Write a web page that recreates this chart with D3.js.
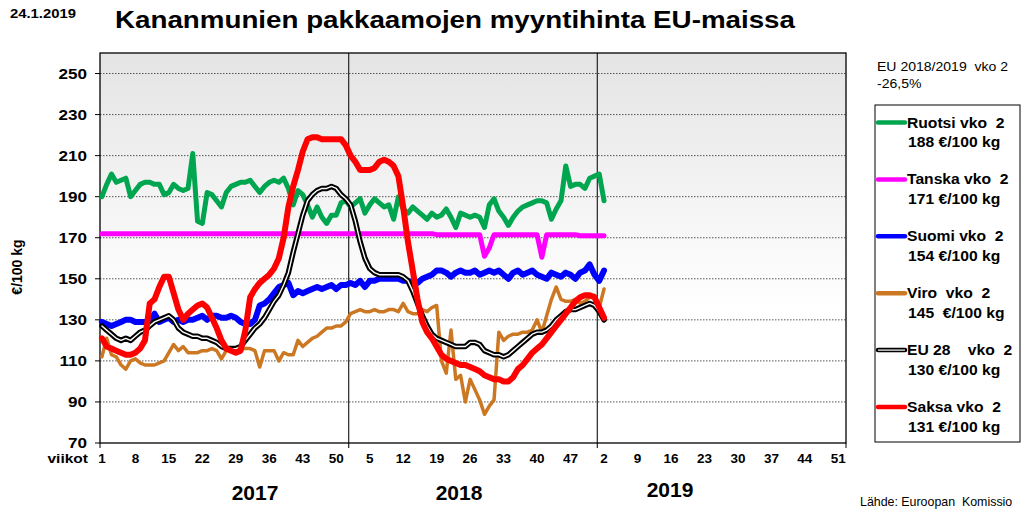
<!DOCTYPE html>
<html><head><meta charset="utf-8">
<script src="https://cdn.jsdelivr.net/npm/d3@7/dist/d3.min.js"></script>
<style>
body{margin:0;background:#fff;}
svg{display:block;font-family:"Liberation Sans",Arial,sans-serif;}
text{white-space:pre;}
</style></head><body>
<svg id="c" width="1023" height="514"></svg>
<script>
// ---- data (weekly, 2017 w1 .. 2019 w2) ----
const ruotsi = [190,196,201,197,198,199,190,193,196,197,197,196,196,191,192,196,194,193,194,211,178,177,192,191,188,185,192,195,196,197,197,198,195,192,195,197,198,197,199,194,186,193,191,186,180,185,180,177,181,181,187,188,185,187,189,182,186,189,187,185,186,179,190,184,182,185,183,181,179,182,180,181,184,180,175,182,181,180,181,180,175,186,189,183,180,176,180,183,185,186,187,188,188,187,179,184,188,205,195,196,196,194,199,200,201,188];
const tanska = [172,172,172,172,172,172,172,172,172,172,172,172,172,172,172,172,172,172,172,172,172,172,172,172,172,172,172,172,172,172,172,172,172,172,172,172,172,172,172,172,172,172,172,172,172,172,172,172,172,172,172,172,172,172,172,172,172,172,172,172,172,172,172,172,172,172,172,172,172,172,171.5,171.5,171.5,171.5,171.5,171.5,171.5,171.5,171.5,171.5,161,165,171.5,171.5,171.5,171.5,171.5,171.5,171.5,171.5,171.5,171.5,160.5,171.5,171.5,171.5,171.5,171.5,171.5,171.5,171,171,171,171,171,171];
const suomi = [129,128,127,128,129,130,130,129,129,129,129,133,129,130,131,129,130,129,130,130,131,132,130,132,132,131,131,132,131,129,128,128,130,137,138,140,143,146,147,148,142,144,143,144,145,146,145,146,147,145,147,147,148,147,149,146,149,149,150,150,150,150,150,149,149,148,148,150,151,152,154,154,153,151,153,154,153,153,154,152,153,154,153,154,152,150,153,154,152,153,154,152,151,150,153,152,151,153,152,150,153,154,157,152,149,154];
const viro = [112,121,113,112,108,106,110,111,109,108,108,108,109,110,114,118,115,117,114,114,114,115,115,116,115,111,115,116,116,116,116,116,115,107,115,115,115,110,114,113,113,120,117,119,121,122,124,126,126,127,127,129,133,134,135,134,134,135,134,134,135,135,134,138,134,133,133,135,134,136,137,110,104,125,101,103,90,101,96,91,84,88,91,124,120,122,123,123,124,124,125,130,124,132,140,146,140,139,139,140,138,139,141,142,136,145];
const eu28 = [127,125,123,121,120,121,120,122,124,125,127,129,130,131,132,130,126,124,123,122,122,121,121,120,119,117,116,116,116,117,120,123,126,128,131,135,139,142,147,153,163,172,181,188,191,193,194,194,195,194,191,189,186,178,168,160,155,153,152,152,152,152,152,151,149,144,138,132,127,123,121,120,119,118,117,117,117,119,119,118,115,114,113,113,112,113,115,117,119,121,123,124,124,125,127,130,132,134,135,135,136,137,138,137,134,130];
const saksa = [121,117,116,115,114,113,113,114,116,120,138,140,146,151,151,143,135,130,133,135,137,138,136,131,126,120,116,115,114,115,125,141,145,148,150,152,155,160,170,185,195,203,212,218,219,219,218,218,218,218,218,215,210,207,203,203,203,204,207,208,207,205,200,185,168,154,140,129,124,121,117,113,111,110,109,108,108,107,106,105,103,102,101,101,100,100,102,106,108,111,114,116,118,121,124,127,130,133,136,139,141,142,142,141,136,131];

const legendLine1 = ["Ruotsi vko  2","Tanska vko  2","Suomi vko  2","Viro  vko  2","EU 28    vko  2","Saksa vko  2"];
const legendLine2 = ["188 €/100 kg","171 €/100 kg","154 €/100 kg","145  €/100 kg","130 €/100 kg","131 €/100 kg"];

const yTicks = [70,90,110,130,150,170,190,210,230,250];
const weekLabels2017 = [1,8,15,22,29,36,43,50];
const weekLabels2018 = [5,12,19,26,33,40,47];
const weekLabels2019 = [2,9,16,23,30,37,44,51];
const years = ["2017","2018","2019"];

// ---- chart ----
const svg = d3.select("#c");
const L=100,R=846,T=53,B=443;
const x = d3.scaleLinear().domain([0,156]).range([L,R]);
const y = d3.scaleLinear().domain([70,260]).range([B,T]);
const xw = i => x(i+0.4);

const defs = svg.append("defs");
const g = defs.append("linearGradient").attr("id","bg").attr("x1",0).attr("y1",0).attr("x2",0).attr("y2",1);
g.append("stop").attr("offset","0%").attr("stop-color","#e4e4e4");
g.append("stop").attr("offset","65%").attr("stop-color","#ffffff");
g.append("stop").attr("offset","100%").attr("stop-color","#ffffff");

svg.append("rect").attr("x",L).attr("y",T).attr("width",R-L).attr("height",B-T).attr("fill","url(#bg)");

// gridlines
svg.append("g").selectAll("line").data(yTicks.filter(d=>d>70)).join("line")
  .attr("x1",L).attr("x2",R).attr("y1",d=>y(d)).attr("y2",d=>y(d))
  .attr("stroke","#555").attr("stroke-width",1).attr("stroke-dasharray","1.5,1.5");

// year dividers
svg.append("g").selectAll("line").data([52,104]).join("line")
  .attr("x1",d=>x(d)).attr("x2",d=>x(d)).attr("y1",T).attr("y2",B+5)
  .attr("stroke","#333").attr("stroke-width",1.3);

// frame
svg.append("rect").attr("x",L).attr("y",T).attr("width",R-L).attr("height",B-T)
  .attr("fill","none").attr("stroke","#000").attr("stroke-width",1.3);
svg.append("g").selectAll("line").data([0,156]).join("line")
  .attr("x1",d=>x(d)).attr("x2",d=>x(d)).attr("y1",B).attr("y2",B+5).attr("stroke","#000");

// y axis ticks/labels
svg.append("g").selectAll("line").data(yTicks).join("line")
  .attr("x1",L-5).attr("x2",L).attr("y1",d=>y(d)).attr("y2",d=>y(d)).attr("stroke","#000");
svg.append("g").selectAll("text").data(yTicks).join("text")
  .attr("transform",d=>`translate(87,${y(d)}) scale(1.14,1)`).attr("dy","0.36em").attr("text-anchor","end")
  .attr("font-size",15).attr("font-weight","bold").text(d=>d);

svg.append("text").attr("transform","translate(22,267) rotate(-90)").attr("text-anchor","middle")
  .attr("font-size",14).attr("font-weight","bold").text("€/100 kg");

// x labels
const xl = [];
weekLabels2017.forEach(w=>xl.push({i:w-1,t:w}));
weekLabels2018.forEach(w=>xl.push({i:52+w-1,t:w}));
weekLabels2019.forEach(w=>xl.push({i:104+w-1,t:w}));
svg.append("g").selectAll("text").data(xl).join("text")
  .attr("x",d=>xw(d.i)).attr("y",463).attr("text-anchor","middle")
  .attr("font-size",13.5).attr("font-weight","bold").text(d=>d.t);
svg.append("text").attr("transform","translate(88,463) scale(1.15,1)").attr("text-anchor","end")
  .attr("font-size",13.5).attr("font-weight","bold").text("viikot");
svg.append("g").selectAll("text").data(years).join("text")
  .attr("x",(d,i)=>[255,459,670][i]).attr("y",(d,i)=>[500,500,497][i]).attr("text-anchor","middle")
  .attr("font-size",21).attr("font-weight","bold").text(d=>d);

// lines
const line = d3.line().x((d,i)=>xw(i)).y(d=>y(d)).curve(d3.curveLinear);
const lg = svg.append("g").attr("fill","none").attr("stroke-linejoin","round").attr("stroke-linecap","round");
lg.append("path").datum(tanska).attr("d",line).attr("stroke","#ff00ff").attr("stroke-width",5);
lg.append("path").datum(ruotsi).attr("d",line).attr("stroke","#00a550").attr("stroke-width",5);
lg.append("path").datum(suomi).attr("d",line).attr("stroke","#0000ff").attr("stroke-width",6);
lg.append("path").datum(viro).attr("d",line).attr("stroke","#cc7722").attr("stroke-width",3.5);
lg.append("path").datum(eu28).attr("d",line).attr("stroke","#000").attr("stroke-width",5.5);
lg.append("path").datum(eu28).attr("d",line).attr("stroke","#fff").attr("stroke-width",1.4);
lg.append("path").datum(saksa).attr("d",line).attr("stroke","#ff0000").attr("stroke-width",6);

// titles
svg.append("text").attr("x",10).attr("y",18).attr("font-size",12).attr("font-weight","bold")
  .attr("textLength",66).attr("lengthAdjust","spacingAndGlyphs").text("24.1.2019");
svg.append("text").attr("x",115).attr("y",28).attr("font-size",24).attr("font-weight","bold")
  .attr("textLength",680).attr("lengthAdjust","spacingAndGlyphs").text("Kananmunien pakkaamojen myyntihinta EU-maissa");

svg.append("text").attr("transform","translate(877,71) scale(1.08,1)").attr("font-size",13).text("EU 2018/2019  vko 2");
svg.append("text").attr("transform","translate(877,88) scale(1.08,1)").attr("font-size",13).text("-26,5%");

// legend
svg.append("rect").attr("x",875).attr("y",105).attr("width",145).attr("height",337)
  .attr("fill","#fff").attr("stroke","#000").attr("stroke-width",1);
const legColors = ["#00a550","#ff00ff","#0000ff","#cc7722","#000","#ff0000"];
const lgI = svg.append("g").selectAll("g").data(legendLine1).join("g")
  .attr("transform",(d,i)=>`translate(0,${122.5+i*56.9})`);
lgI.append("line").attr("x1",878).attr("x2",905).attr("y1",0).attr("y2",0)
  .attr("stroke",(d,i)=>legColors[i]).attr("stroke-width",4.5).attr("stroke-linecap","round");
lgI.filter((d,i)=>i===4).append("line").attr("x1",878).attr("x2",905).attr("y1",0).attr("y2",0)
  .attr("stroke","#fff").attr("stroke-width",1.2);
lgI.append("text").attr("transform","translate(907,5) scale(1.08,1)").attr("font-size",14.5).attr("font-weight","bold").text(d=>d);
lgI.append("text").attr("transform","translate(908,24.5) scale(1.08,1)").attr("font-size",14.5).attr("font-weight","bold").text((d,i)=>legendLine2[i]);

svg.append("text").attr("x",860).attr("y",506).attr("font-size",12.4).text("Lähde: Euroopan  Komissio");
</script></body></html>
